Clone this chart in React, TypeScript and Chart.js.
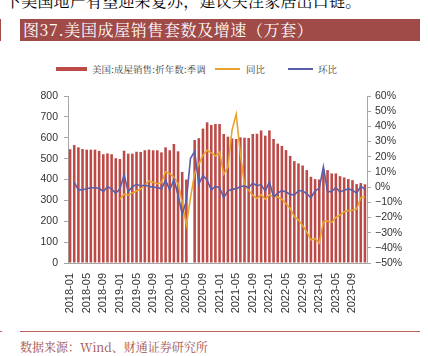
import React, { useEffect, useRef } from "react";
import { Chart, registerables } from "chart.js";

Chart.register(...registerables);

// Categories (months)
const months: string[] = [
  "2018-01","2018-02","2018-03","2018-04","2018-05","2018-06","2018-07","2018-08","2018-09","2018-10","2018-11","2018-12",
  "2019-01","2019-02","2019-03","2019-04","2019-05","2019-06","2019-07","2019-08","2019-09","2019-10","2019-11","2019-12",
  "2020-01","2020-02","2020-03","2020-04","2020-05","2020-06","2020-07","2020-08","2020-09","2020-10","2020-11","2020-12",
  "2021-01","2021-02","2021-03","2021-04","2021-05","2021-06","2021-07","2021-08","2021-09","2021-10","2021-11","2021-12",
  "2022-01","2022-02","2022-03","2022-04","2022-05","2022-06","2022-07","2022-08","2022-09","2022-10","2022-11","2022-12",
  "2023-01","2023-02","2023-03","2023-04","2023-05","2023-06","2023-07","2023-08","2023-09","2023-10","2023-11","2023-12",
];

// 美国:成屋销售:折年数:季调 (万套)
const sales2018 = [545, 565, 554, 546, 543, 543, 543, 537, 521, 525, 521, 502];
const sales2019 = [498, 538, 524, 524, 533, 532, 540, 543, 540, 540, 530, 554];
const sales2020 = [540, 570, 535, 436, 400, null, 589, 598, 644, 674, 661, 666];
const sales2021 = [666, 618, 605, 597, 594, 602, 600, 599, 618, 619, 635, 610];
const sales2022 = [635, 594, 572, 561, 541, 513, 488, 477, 467, 445, 413, 402];
const sales2023 = [400, 450, 445, 429, 429, 416, 410, 402, 397, 378, 383, 377];

// 同比 (%)
const yoy2018 = [null, null, null, null, null, null, null, null, null, null, null, null];
const yoy2019 = [-8, -4.7, -5.2, -3.9, -2.6, -1.3, 1.4, 4, 3.1, 2.2, 2.9, 10.1];
const yoy2020 = [8.8, 6.5, 2.5, -10, -25, -7, 9.2, 15, 21, 24.2, 22.5, 20.5];
const yoy2021 = [23, 8.5, 13, 37.5, 48, 22, 1.5, -2, -5.5, -7.5, -5, -8];
const yoy2022 = [-5, -6.3, -6.5, -8, -11, -14, -19.5, -21.5, -25.5, -29.5, -34.7, -34];
const yoy2023 = [-36.9, -22.7, -22.3, -23.2, -20, -18.5, -16.3, -15.4, -15.3, -14.5, -7, -6.3];

// 环比 (%)
const mom2018 = [null, 3.1, -1.9, -1.7, -1.1, -0.4, -0.4, -0.8, -3, 0.3, -1.3, -4];
const mom2019 = [-1.3, 7.9, -3, 0.3, 1.8, 0.7, 1.4, 0.4, 0, -0.2, -1.3, 4.6];
const mom2020 = [-2, 5, -5.2, -18, -9, 19, 23.5, 2, 7.5, 4.7, -1.9, 0.5];
const mom2021 = [-0.4, -7, -2.5, -1.5, -1, 0.2, 0.9, -0.4, 2.7, 0.8, 1.8, -2.8];
const mom2022 = [3.5, -6.5, -4, -2.3, -3.3, -4.8, -5.2, -2.4, -2.4, -4.4, -7, -2.5];
const mom2023 = [-0.8, 13.4, -3, -3, -0.3, -3.3, -2, -1.2, -2, -4, 0.5, -1.3];

const seriesNames = ["美国:成屋销售:折年数:季调", "同比", "环比"];

const BAR = "#BC4A47";
const YEL = "#E8A32E";
const BLU = "#5A5EA9";
const AXIS = "#A6A6A6";
const TXT = "#333333";

export default function App() {
  const ref = useRef<HTMLCanvasElement | null>(null);

  useEffect(() => {
    if (!ref.current) return;
    const sales = [...sales2018, ...sales2019, ...sales2020, ...sales2021, ...sales2022, ...sales2023];
    const yoy = [...yoy2018, ...yoy2019, ...yoy2020, ...yoy2021, ...yoy2022, ...yoy2023];
    const mom = [...mom2018, ...mom2019, ...mom2020, ...mom2021, ...mom2022, ...mom2023];
    const chart = new Chart(ref.current, {
      type: "bar",
      data: {
        labels: months,
        datasets: [
          {
            type: "bar",
            label: seriesNames[0],
            data: sales as any,
            backgroundColor: BAR,
            barPercentage: 0.62,
            categoryPercentage: 1,
            yAxisID: "y",
            order: 3,
          },
          {
            type: "line",
            label: seriesNames[1],
            data: yoy as any,
            borderColor: YEL,
            borderWidth: 1.6,
            pointRadius: 0,
            tension: 0,
            yAxisID: "y1",
            order: 2,
          },
          {
            type: "line",
            label: seriesNames[2],
            data: mom as any,
            borderColor: BLU,
            borderWidth: 1.6,
            pointRadius: 0,
            tension: 0,
            yAxisID: "y1",
            order: 1,
          },
        ],
      },
      options: {
        responsive: false,
        animation: false,
        layout: { padding: { top: 16, left: 0, right: 0, bottom: 0 } },
        plugins: { legend: { display: false }, tooltip: { enabled: false } },
        scales: {
          x: {
            type: "category",
            offset: true,
            grid: { display: true, drawOnChartArea: false, drawTicks: false, color: AXIS },
            border: { display: true, color: AXIS, width: 1 },
            ticks: {
              autoSkip: false,
              maxRotation: 90,
              minRotation: 90,
              padding: 10,
              color: TXT,
              font: { size: 11, family: "'Liberation Sans', Arial, sans-serif" },
              callback: (_v: any, i: number) => (i % 4 === 0 ? months[i] : ""),
            },
            afterFit: (s: any) => {
              s.height = 62;
            },
          },
          y: {
            position: "left",
            min: 0,
            max: 800,
            ticks: {
              stepSize: 100,
              autoSkip: false,
              padding: 6,
              color: TXT,
              font: { size: 10.5, family: "'Liberation Sans', Arial, sans-serif" },
            },
            grid: { drawOnChartArea: false, tickLength: 4, color: AXIS },
            border: { display: true, color: AXIS, width: 1 },
            afterFit: (s: any) => {
              s.width = 68;
            },
          },
          y1: {
            position: "right",
            min: -50,
            max: 60,
            ticks: {
              stepSize: 10,
              autoSkip: false,
              padding: 4,
              color: TXT,
              font: { size: 10.5, family: "'Liberation Sans', Arial, sans-serif" },
              callback: (v: any) => (Number(v) < 0 ? "\u2212" + Math.abs(Number(v)) : String(v)) + "%",
            },
            grid: { drawOnChartArea: false, tickLength: 4, color: AXIS },
            border: { display: true, color: AXIS, width: 1 },
            afterFit: (s: any) => {
              s.width = 61;
            },
          },
        },
      } as any,
    });
    return () => chart.destroy();
  }, []);

  const cjk = "'Noto Serif CJK SC', 'Noto Sans CJK SC', serif";
  const legendText: React.CSSProperties = {
    position: "absolute",
    top: 62.5,
    fontSize: 9.5,
    lineHeight: "13px",
    color: "#404040",
    fontFamily: cjk,
    whiteSpace: "nowrap",
  };

  return (
    <div
      style={{
        position: "fixed",
        left: 0,
        top: 0,
        width: 428,
        height: 356,
        background: "#fff",
        overflow: "hidden",
      }}
    >
      <div
        style={{
          position: "absolute",
          left: 5,
          top: -7,
          fontSize: 16,
          lineHeight: "16px",
          fontFamily: cjk,
          color: "#000",
          whiteSpace: "nowrap",
          letterSpacing: 0.2,
        }}
      >
        下美国地产有望迎来复苏，建议关注家居出口链。
      </div>
      <div style={{ position: "absolute", left: 0, top: 19, width: 1, height: 22, background: "#A04B48" }} />
      <div
        style={{
          position: "absolute",
          left: 20,
          top: 19,
          width: 400,
          height: 22,
          background: "#A04B48",
          color: "#fff",
          fontSize: 16,
          lineHeight: "22px",
          fontFamily: cjk,
          paddingLeft: 3,
          letterSpacing: 0.6,
          boxSizing: "border-box",
          whiteSpace: "nowrap",
        }}
      >
        图37.美国成屋销售套数及增速（万套）
      </div>

      <div style={{ position: "absolute", left: 56, top: 67, width: 31, height: 4, background: BAR }} />
      <div style={{ ...legendText, left: 92 }}>{seriesNames[0]}</div>
      <div style={{ position: "absolute", left: 215, top: 68, width: 25, height: 2, background: YEL }} />
      <div style={{ ...legendText, left: 246 }}>{seriesNames[1]}</div>
      <div style={{ position: "absolute", left: 288, top: 68, width: 25, height: 2, background: BLU }} />
      <div style={{ ...legendText, left: 318 }}>{seriesNames[2]}</div>

      <canvas
        ref={ref}
        width={428}
        height={245}
        style={{ position: "absolute", left: 0, top: 80, width: 428, height: 245 }}
      />

      <div style={{ position: "absolute", left: 0, top: 331, width: 2, height: 1, background: "#C0605A" }} />
      <div style={{ position: "absolute", left: 20, top: 331, width: 400, height: 1, background: "#C0605A" }} />
      <div
        style={{
          position: "absolute",
          left: 20,
          top: 340,
          fontSize: 12,
          lineHeight: "14px",
          color: "#A0504C",
          fontFamily: cjk,
          whiteSpace: "nowrap",
        }}
      >
        数据来源：Wind、财通证券研究所
      </div>
    </div>
  );
}
